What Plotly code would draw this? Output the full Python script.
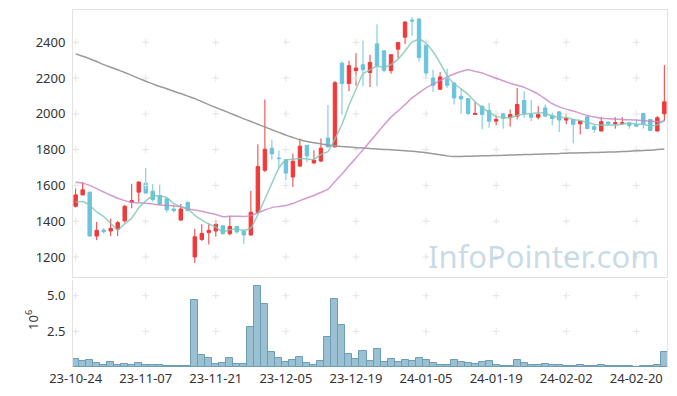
import plotly.graph_objects as go

dates = [
    "23-10-24", "23-10-25", "23-10-26", "23-10-27", "23-10-30", "23-10-31",
    "23-11-01", "23-11-02", "23-11-03", "23-11-06", "23-11-07", "23-11-08", "23-11-09", "23-11-10",
    "23-11-13", "23-11-14", "23-11-15", "23-11-16", "23-11-17", "23-11-20", "23-11-21", "23-11-22",
    "23-11-23", "23-11-24", "23-11-27", "23-11-28", "23-11-29", "23-11-30",
    "23-12-01", "23-12-04", "23-12-05", "23-12-06", "23-12-07", "23-12-08", "23-12-11", "23-12-12",
    "23-12-13", "23-12-14", "23-12-15", "23-12-18", "23-12-19", "23-12-20", "23-12-21", "23-12-22",
    "23-12-26", "23-12-27", "23-12-28",
    "24-01-02", "24-01-03", "24-01-04", "24-01-05", "24-01-08", "24-01-09", "24-01-10", "24-01-11",
    "24-01-12", "24-01-15", "24-01-16", "24-01-17", "24-01-18", "24-01-19", "24-01-22", "24-01-23",
    "24-01-24", "24-01-25", "24-01-26", "24-01-29", "24-01-30", "24-01-31",
    "24-02-01", "24-02-02", "24-02-05", "24-02-06", "24-02-07", "24-02-08", "24-02-13", "24-02-14",
    "24-02-15", "24-02-16", "24-02-19", "24-02-20", "24-02-21", "24-02-22", "24-02-23", "24-02-26",
]

open_ = [1483, 1547, 1562, 1317, 1351, 1345, 1355, 1402, 1506, 1562,
         1613, 1568, 1543, 1525, 1468, 1406, 1506, 1200, 1298, 1336,
         1345, 1374, 1330, 1370, 1345, 1323, 1450, 1684, 1808, 1753,
         1744, 1647, 1708, 1824, 1725, 1736, 1865, 1815, 2283, 2169,
         2241, 2274, 2231, 2391, 2352, 2241, 2361, 2428, 2524, 2530,
         2385, 2200, 2137, 2194, 2172, 2098, 2085, 1996, 2043, 2018,
         1959, 2000, 1978, 1987, 2074, 1996, 1981, 2033, 1991, 2011,
         1965, 1969, 1944, 1983, 1928, 1904, 1954, 1944, 1944, 1950,
         1941, 2002, 1969, 1904, 2000]
high = [1585, 1619, 1566, 1396, 1360, 1415, 1402, 1491, 1609, 1622,
        1698, 1608, 1604, 1530, 1492, 1496, 1508, 1358, 1383, 1389,
        1406, 1377, 1430, 1374, 1347, 1570, 1830, 2080, 1856, 1795,
        1746, 1778, 1862, 1826, 1796, 1862, 2049, 2183, 2293, 2296,
        2339, 2409, 2330, 2500, 2354, 2332, 2400, 2515, 2539, 2532,
        2387, 2246, 2233, 2252, 2174, 2141, 2087, 2067, 2045, 2061,
        1996, 2002, 2024, 2144, 2126, 2076, 2043, 2052, 2006, 2013,
        2000, 1971, 1959, 1985, 1941, 1981, 1956, 1981, 1981, 1952,
        1969, 2004, 1971, 1987, 2272]
low = [1477, 1545, 1317, 1294, 1332, 1317, 1317, 1392, 1472, 1506,
       1555, 1509, 1490, 1449, 1449, 1404, 1455, 1166, 1289, 1270,
       1313, 1326, 1321, 1332, 1273, 1320, 1445, 1675, 1744, 1700,
       1628, 1591, 1705, 1731, 1723, 1731, 1813, 1813, 1996, 2126,
       2157, 2154, 2150, 2154, 2231, 2224, 2311, 2390, 2437, 2293,
       2200, 2122, 2135, 2144, 2052, 2000, 1993, 1994, 1913, 1922,
       1935, 1917, 1928, 1969, 1978, 1959, 1969, 1983, 1935, 1898,
       1941, 1835, 1885, 1916, 1894, 1902, 1935, 1917, 1940, 1917,
       1929, 1917, 1905, 1902, 1959]
close = [1547, 1575, 1317, 1349, 1341, 1360, 1392, 1483, 1515, 1619,
         1557, 1521, 1496, 1464, 1459, 1468, 1459, 1313, 1332, 1349,
         1383, 1330, 1370, 1340, 1323, 1450, 1705, 1802, 1776, 1750,
         1669, 1735, 1819, 1765, 1740, 1808, 1815, 2174, 2169, 2269,
         2256, 2246, 2287, 2269, 2243, 2330, 2398, 2513, 2518, 2315,
         2228, 2159, 2206, 2159, 2089, 2083, 2002, 2002, 1996, 1959,
         1969, 1974, 1996, 2052, 2002, 1981, 1996, 1987, 1974, 1965,
         1974, 1941, 1959, 1918, 1913, 1956, 1944, 1950, 1950, 1935,
         1931, 1941, 1907, 1978, 2067]

# volume in millions of shares (axis unit 10^6)
volume_m = [0.56, 0.44, 0.49, 0.28, 0.14, 0.35, 0.14, 0.21, 0.14, 0.28,
            0.14, 0.14, 0.14, 0.07, 0.07, 0.07, 0.07, 4.67, 0.84, 0.63,
            0.21, 0.28, 0.63, 0.21, 0.21, 2.79, 5.65, 4.40, 1.05, 0.63,
            0.35, 0.49, 0.70, 0.28, 0.14, 0.42, 2.09, 4.74, 2.93, 0.91,
            0.56, 1.14, 0.44, 1.28, 0.35, 0.58, 0.37, 0.51, 0.44, 0.65,
            0.51, 0.28, 0.14, 0.14, 0.51, 0.37, 0.28, 0.21, 0.37, 0.44,
            0.14, 0.07, 0.07, 0.51, 0.28, 0.14, 0.14, 0.21, 0.14, 0.14,
            0.07, 0.07, 0.14, 0.07, 0.07, 0.14, 0.07, 0.07, 0.07, 0.07,
            0.02, 0.07, 0.07, 0.14, 1.05]

# moving-average values that depend on history before the visible window
ma5_start = [1508, 1510, 1488, 1452]
ma20_start = [1617, 1612, 1600, 1582, 1563, 1545, 1528, 1515, 1506, 1502,
              1500, 1496, 1491, 1488, 1485, 1480, 1468, 1462, 1455]
ma120 = [2335, 2322, 2308, 2292, 2275, 2260, 2246, 2231, 2215, 2198,
         2182, 2167, 2153, 2140, 2126, 2113, 2099, 2085, 2068, 2051,
         2035, 2020, 2004, 1988, 1972, 1957, 1942, 1926, 1911, 1896,
         1881, 1868, 1855, 1845, 1838, 1832, 1826, 1821, 1817, 1814,
         1811, 1809, 1806, 1804, 1801, 1799, 1797, 1794, 1791, 1787,
         1782, 1777, 1771, 1765, 1761, 1762, 1763, 1764, 1765, 1766,
         1767, 1768, 1770, 1771, 1772, 1773, 1774, 1776, 1777, 1778,
         1780, 1781, 1782, 1783, 1784, 1785, 1786, 1787, 1789, 1791,
         1793, 1795, 1797, 1800, 1803]

price_ticks = [1200, 1400, 1600, 1800, 2000, 2200, 2400]
vol_ticks = [2.5, 5.0]
x_ticks = dates[::10]


def moving_avg(vals, n, start):
    out = list(start)
    for i in range(len(start), len(vals)):
        out.append(sum(vals[i - n + 1:i + 1]) / n)
    return out


ma5 = moving_avg(close, 5, ma5_start)
ma20 = moving_avg(close, 20, ma20_start)

UP = "#f03a3a"
DOWN = "#6cc3dc"
FONT = "Noto Sans"

fig = go.Figure()

# faint grid crosses at tick intersections
cross = dict(symbol="cross-thin", size=5, line=dict(color="#e4e4e4", width=1))
cx, cy = [], []
for xv in x_ticks:
    for yv in price_ticks:
        cx.append(xv)
        cy.append(yv)
fig.add_trace(go.Scatter(x=cx, y=cy, mode="markers", xaxis="x", yaxis="y",
                         marker=cross, hoverinfo="skip", showlegend=False))
vx, vy = [], []
for xv in x_ticks:
    for yv in vol_ticks:
        vx.append(xv)
        vy.append(yv)
fig.add_trace(go.Scatter(x=vx, y=vy, mode="markers", xaxis="x2", yaxis="y2",
                         marker=cross, hoverinfo="skip", showlegend=False))

fig.add_trace(go.Candlestick(
    x=dates, open=open_, high=high, low=low, close=close,
    xaxis="x", yaxis="y",
    increasing=dict(line=dict(color=UP, width=1), fillcolor=UP),
    decreasing=dict(line=dict(color=DOWN, width=1), fillcolor=DOWN),
    showlegend=False,
))

fig.add_trace(go.Scatter(x=dates, y=ma120, mode="lines", xaxis="x", yaxis="y",
                         line=dict(color="#9a9a9a", width=1.5, shape="spline", smoothing=0.6),
                         showlegend=False))
fig.add_trace(go.Scatter(x=dates, y=ma20, mode="lines", xaxis="x", yaxis="y",
                         line=dict(color="rgba(200,130,195,0.8)", width=1.5, shape="spline", smoothing=0.6),
                         showlegend=False))
fig.add_trace(go.Scatter(x=dates, y=ma5, mode="lines", xaxis="x", yaxis="y",
                         line=dict(color="rgba(130,200,185,0.85)", width=1.5, shape="spline", smoothing=0.6),
                         showlegend=False))

fig.add_trace(go.Bar(x=dates, y=volume_m, xaxis="x2", yaxis="y2",
                     marker=dict(color="#9bc0d2", line=dict(color="#6b9db6", width=1)),
                     showlegend=False))

n = len(dates)
xr = [-0.38, n - 1 + 0.38]
axis_line = "#e2e2e2"
tick_font = dict(family=FONT, size=13, color="#333333")

# page body has an 8px default margin; sizes compensate for it
fig.update_layout(
    width=669, height=388,
    margin=dict(l=65, r=10, t=2, b=29, autoexpand=False),
    paper_bgcolor="white", plot_bgcolor="white",
    font=dict(family=FONT),
    bargap=0,
    hovermode=False,
    xaxis=dict(type="category", domain=[0, 1], range=xr, anchor="y",
               showticklabels=False, showgrid=False, zeroline=False,
               rangeslider=dict(visible=False), automargin=False,
               showline=True, mirror=True, linecolor=axis_line, linewidth=1,
               categoryorder="array", categoryarray=dates),
    yaxis=dict(domain=[0.252, 1.0], range=[1088, 2580], anchor="x",
               tickvals=price_ticks, tickfont=tick_font, showgrid=False,
               zeroline=False, showline=True, mirror=True, automargin=False,
               linecolor=axis_line, linewidth=1, ticks="", ticklabelstandoff=4),
    xaxis2=dict(type="category", domain=[0, 1], range=xr, anchor="y2",
                tickvals=x_ticks, ticktext=x_ticks, tickfont=tick_font,
                showgrid=False, zeroline=False, showline=False, ticks="",
                automargin=False, ticklabelstandoff=2,
                categoryorder="array", categoryarray=dates),
    yaxis2=dict(domain=[0, 0.2437], range=[0, 6.1], anchor="x2",
                tickvals=vol_ticks, tickformat=".1f", tickfont=tick_font,
                showgrid=False, zeroline=False, showline=True, mirror=True,
                automargin=False,
                linecolor=axis_line, linewidth=1, ticks="", ticklabelstandoff=4),
    annotations=[
        dict(text="InfoPointer.com", xref="paper", yref="paper", x=0.99, y=0.31,
             xanchor="right", yanchor="middle", showarrow=False,
             font=dict(family=FONT, size=31, color="rgba(165,195,212,0.6)")),
        dict(text="10<sup>6</sup>", xref="paper", yref="paper", x=-0.069, y=0.132,
             xanchor="center", yanchor="middle", showarrow=False, textangle=-90,
             font=dict(family=FONT, size=13, color="#333333")),
    ],
)

fig.write_html("out.html")
